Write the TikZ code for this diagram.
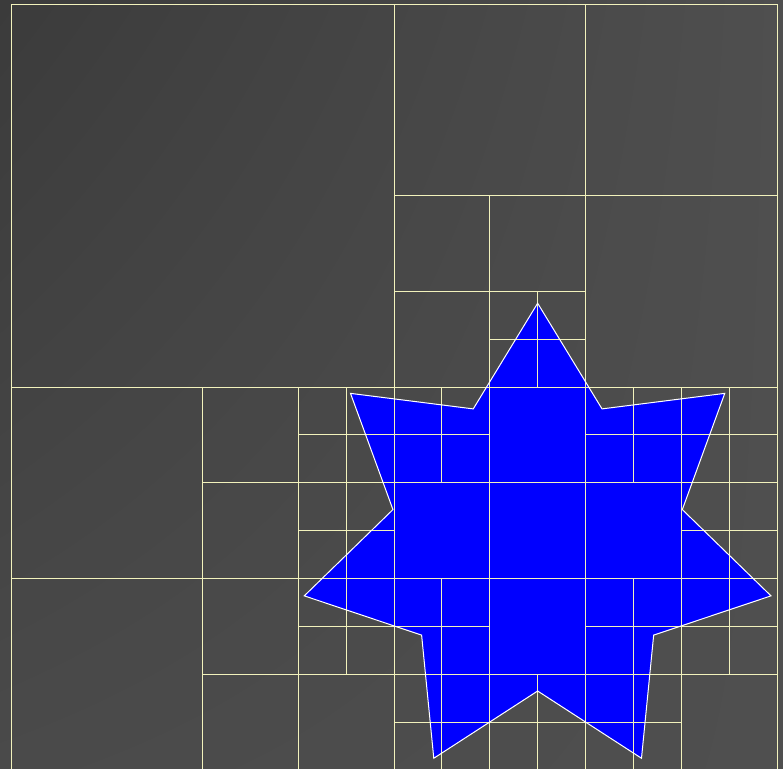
\documentclass[tikz,border=0pt]{standalone}
\usepackage{tikz}
\usetikzlibrary{shadings}
\definecolor{bgdark}{HTML}{3B3B3B}
\definecolor{bgmid}{HTML}{4A4A4A}
\definecolor{bglight}{HTML}{4F4F4F}
\definecolor{gridcol}{HTML}{F2F2BC}
\begin{document}
\begin{tikzpicture}[x=1cm,y=1cm,
  gridline/.style={draw=gridcol,line width=0.6pt},
  starline/.style={draw=white,line width=0.6pt}]
\useasboundingbox (-0.23,0.042) rectangle (16.125,16.084);
\shade[upper left=bgdark,upper right=bglight,lower left=bgmid,lower right=bglight]
  (-0.23,0.042) rectangle (16.125,16.084);
% seven pointed star
\fill[blue,shift={(11,4.75)}] (90:5)
  \foreach \k in {0,...,6} { -- ({90+\k*360/7+180/7}:3.1) -- ({90+(\k+1)*360/7}:5) } -- cycle;
% quadtree cells
\draw[gridline] (0,0) rectangle (16,16);
\foreach \x/\y/\s in {0/0/16, 8/8/8, 8/8/4, 10/8/2, 0/0/8, 4/4/4, 6/6/2, 6/4/2,
  4/0/4, 6/2/2, 8/0/8, 8/4/4, 8/6/2, 12/4/4, 12/6/2, 14/6/2, 14/4/2,
  8/0/4, 8/2/2, 8/0/2, 10/0/2, 12/0/4, 12/2/2, 12/0/2, 14/2/2}
  \draw[gridline] (\x+\s/2,\y) -- ++(0,\s) (\x,\y+\s/2) -- ++(\s,0);
\draw[starline,shift={(11,4.75)}] (90:5)
  \foreach \k in {0,...,6} { -- ({90+\k*360/7+180/7}:3.1) -- ({90+(\k+1)*360/7}:5) } -- cycle;
\end{tikzpicture}
\end{document}
